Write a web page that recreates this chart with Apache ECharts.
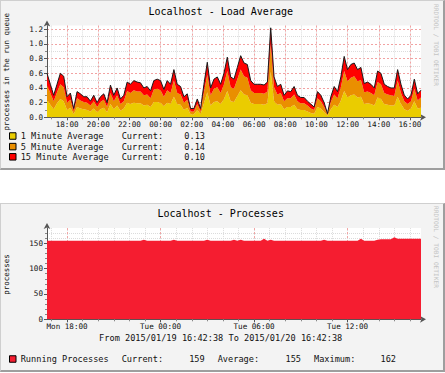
<!DOCTYPE html>
<html><head><meta charset="utf-8">
<script src="https://cdn.jsdelivr.net/npm/echarts@6/dist/echarts.min.js"></script>
<style>
html,body{margin:0;padding:0;background:#fff;}
#wrap{position:relative;width:445px;height:373px;}
.panel{position:absolute;background:#f3f3f3;box-sizing:border-box;border-top:1px solid #cfcfcf;border-left:1px solid #cfcfcf;border-right:2px solid #9e9e9e;border-bottom:2px solid #9e9e9e;}
#c{position:absolute;left:0;top:0;width:445px;height:373px;}
</style>
</head><body>
<div id="wrap">
<div class="panel" style="left:0;top:0;width:445px;height:170px;"></div>
<div class="panel" style="left:0;top:203px;width:445px;height:169px;"></div>
<div id="c"></div>
</div>
<script>
// time span: 2015/01/19 16:42:38 -> 2015/01/20 16:42:38 (hours since Jan 19 00:00)
const startHour = 16 + 42/60 + 38/3600;
const spanHours = 24;

const load1 = [0.24,0.17,0.11,0.19,0.25,0.22,0.10,0.13,0.04,0.14,
0.12,0.11,0.10,0.08,0.12,0.07,0.11,0.13,0.07,0.18,
0.11,0.16,0.09,0.12,0.20,0.18,0.20,0.19,0.19,0.16,
0.17,0.14,0.21,0.21,0.20,0.15,0.20,0.18,0.28,0.18,
0.17,0.10,0.13,0.04,0.04,0.10,0.04,0.19,0.34,0.16,
0.21,0.22,0.18,0.25,0.36,0.22,0.21,0.29,0.37,0.31,
0.30,0.20,0.18,0.18,0.18,0.17,0.19,0.62,0.22,0.17,
0.18,0.11,0.14,0.14,0.17,0.11,0.10,0.10,0.08,0.06,
0.05,0.14,0.12,0.07,0.02,0.11,0.17,0.14,0.23,0.36,
0.27,0.30,0.31,0.27,0.28,0.18,0.19,0.18,0.16,0.27,
0.25,0.18,0.17,0.16,0.16,0.28,0.18,0.11,0.09,0.12,
0.22,0.12,0.13];
const load5 = [0.20,0.16,0.11,0.15,0.20,0.19,0.10,0.11,0.04,0.12,
0.11,0.10,0.10,0.08,0.10,0.07,0.10,0.11,0.07,0.15,
0.11,0.14,0.09,0.10,0.16,0.15,0.17,0.16,0.16,0.14,
0.14,0.12,0.17,0.18,0.17,0.13,0.17,0.15,0.22,0.15,
0.14,0.10,0.11,0.04,0.04,0.08,0.04,0.15,0.24,0.14,
0.18,0.19,0.15,0.20,0.27,0.19,0.18,0.23,0.28,0.25,
0.24,0.17,0.15,0.15,0.15,0.15,0.16,0.38,0.19,0.14,
0.15,0.11,0.12,0.12,0.14,0.11,0.09,0.09,0.08,0.06,
0.05,0.12,0.10,0.07,0.02,0.10,0.14,0.12,0.18,0.27,
0.22,0.24,0.25,0.22,0.23,0.16,0.16,0.15,0.14,0.21,
0.20,0.15,0.14,0.14,0.13,0.22,0.15,0.11,0.09,0.10,
0.17,0.11,0.14];
const load15 = [0.16,0.12,0.08,0.11,0.15,0.15,0.08,0.09,0.04,0.09,
0.09,0.07,0.08,0.06,0.08,0.06,0.07,0.08,0.06,0.11,
0.08,0.10,0.07,0.08,0.12,0.12,0.13,0.13,0.12,0.10,
0.11,0.10,0.12,0.13,0.13,0.10,0.13,0.12,0.15,0.12,
0.11,0.08,0.08,0.04,0.04,0.07,0.04,0.11,0.17,0.10,
0.13,0.14,0.12,0.15,0.19,0.14,0.13,0.16,0.19,0.18,
0.18,0.13,0.12,0.12,0.12,0.12,0.13,0.22,0.14,0.11,
0.12,0.08,0.10,0.09,0.11,0.08,0.08,0.08,0.06,0.06,
0.04,0.09,0.08,0.06,0.01,0.07,0.11,0.09,0.14,0.20,
0.16,0.18,0.18,0.16,0.17,0.12,0.13,0.12,0.10,0.15,
0.15,0.12,0.11,0.10,0.11,0.15,0.12,0.08,0.07,0.08,
0.13,0.09,0.10];
const procs = [155,155,155,155,155,155,155,155,155,155,
155,155,155,155,155,155,155,155,155,155,
155,155,155,155,155,155,155,155,155,157,
155,155,155,155,155,155,155,155,157,155,
155,155,155,155,155,155,155,155,157,155,
155,155,155,155,155,155,157,155,157,155,
155,155,155,155,155,159,155,157,155,155,
155,155,155,155,155,155,155,155,155,155,
155,155,155,157,155,155,155,155,155,155,
155,155,155,155,159,155,155,155,155,157,
158,158,158,158,162,159,159,159,159,159,
159,159,159];

const loadLabelHours = [18,20,22,24,26,28,30,32,34,36,38,40];
const procLabelHours = [18,24,30,36];
const procLabelNames = ['Mon 18:00','Tue 00:00','Tue 06:00','Tue 12:00'];
const minorHours = [17,18,19,20,21,22,23,24,25,26,27,28,29,30,31,32,33,34,35,36,37,38,39,40];
const loadYTicks = [0,0.2,0.4,0.6,0.8,1.0,1.2];
const loadYMinor = [0.1,0.3,0.5,0.7,0.9,1.1];
const procYTicks = [0,50,100,150];
const procYMinor = [10,20,30,40,60,70,80,90,110,120,130,140,160,170];

const legendLoad = [
  {name:'1 Minute Average', color:'#EACC00', current:'0.13'},
  {name:'5 Minute Average', color:'#EA8F00', current:'0.14'},
  {name:'15 Minute Average', color:'#FF0000', current:'0.10'}
];
const procStats = {current:'159', average:'155', maximum:'162'};

const MONO = '"DejaVu Sans Mono", monospace';
const n = load1.length;
const xs = load1.map((_, i) => startHour + i * spanHours / (n - 1));
const pair = arr => arr.map((v, i) => [xs[i], v]);
const pad = h => (h < 10 ? '0' : '') + h;

const majorLine = {show:true, lineStyle:{color:'#f2a2a2', width:1, type:[2,2]}};
const minorLine = {show:true, lineStyle:{color:'#dcdcdc', width:1, type:[1,1]}};
const axisCol = '#555';

function xMajor(gi, values, fmt) {
  return {gridIndex:gi, type:'value', min:startHour, max:startHour+spanHours, position:'bottom',
    axisLine:{show:true, onZero:false, lineStyle:{color:axisCol}, symbol:['none','arrow'], symbolSize:[5,6], symbolOffset:[0,5]},
    axisTick:{show:true, customValues:values, length:3, lineStyle:{color:axisCol}},
    axisLabel:{customValues:values, formatter:fmt, fontFamily:MONO, fontSize:7.6, color:'#111', margin:3, showMinLabel:true, showMaxLabel:true},
    splitLine:majorLine};
}
function xMinor(gi) {
  return {gridIndex:gi, type:'value', min:startHour, max:startHour+spanHours, position:'bottom',
    axisLine:{show:false, onZero:false}, axisTick:{show:true, customValues:minorHours, length:2, lineStyle:{color:'#888'}},
    axisLabel:{show:false, customValues:minorHours}, splitLine:minorLine};
}
function yMajor(gi, max, values, fmt) {
  return {gridIndex:gi, type:'value', min:0, max:max, position:'left',
    axisLine:{show:true, lineStyle:{color:axisCol}, symbol:['none','arrow'], symbolSize:[5,6], symbolOffset:[0,5]},
    axisTick:{show:true, customValues:values, length:3, lineStyle:{color:axisCol}},
    axisLabel:{customValues:values, formatter:fmt, fontFamily:MONO, fontSize:7.6, color:'#111', margin:4},
    splitLine:majorLine};
}
function yMinor(gi, max, values) {
  return {gridIndex:gi, type:'value', min:0, max:max, position:'left',
    axisLine:{show:false}, axisTick:{show:true, customValues:values, length:2, lineStyle:{color:'#888'}},
    axisLabel:{show:false, customValues:values}, splitLine:minorLine};
}

const graphics = [];
function txt(x, y, text, opt) {
  graphics.push(Object.assign({type:'text', silent:true, x:x, y:y, style:Object.assign({
    text:text, font:'8.6px ' + MONO, fill:'#111', textAlign:'left', textVerticalAlign:'middle'}, opt && opt.style || {})},
    opt && opt.rotation !== undefined ? {rotation:opt.rotation} : {}));
}
function box(x, y, color) {
  graphics.push({type:'rect', silent:true, shape:{x:x, y:y, width:6.5, height:6.5},
    style:{fill:color, stroke:'#000', lineWidth:1}});
}
// titles
txt(220.7, 11.7, 'Localhost - Load Average', {style:{font:'10px ' + MONO, textAlign:'center', fill:'#000'}});
txt(220.7, 213.3, 'Localhost - Processes', {style:{font:'10px ' + MONO, textAlign:'center', fill:'#000'}});
// y axis titles
txt(6.3, 71.7, 'processes in the run queue', {rotation:Math.PI/2, style:{font:'7.5px ' + MONO, textAlign:'center'}});
txt(6.3, 274.5, 'processes', {rotation:Math.PI/2, style:{font:'7.5px ' + MONO, textAlign:'center'}});
// watermarks
txt(436.5, 45, 'RRDTOOL / TOBI OETIKER', {rotation:-Math.PI/2, style:{font:'6.2px ' + MONO, textAlign:'center', fill:'#c4c4c4'}});
txt(436.5, 247, 'RRDTOOL / TOBI OETIKER', {rotation:-Math.PI/2, style:{font:'6.2px ' + MONO, textAlign:'center', fill:'#c4c4c4'}});
// load legend
const legY = [136, 146.6, 156.8];
legendLoad.forEach((l, i) => {
  box(9.5, legY[i] - 3.25, l.color);
  txt(20.7, legY[i], l.name);
  txt(121.7, legY[i], 'Current:');
  txt(205, legY[i], l.current, {style:{textAlign:'right'}});
});
// processes footer
txt(220.7, 337.7, 'From 2015/01/19 16:42:38 To 2015/01/20 16:42:38', {style:{textAlign:'center'}});
box(9.5, 359 - 3.25, '#F51D30');
txt(20.7, 359, 'Running Processes');
txt(121.7, 359, 'Current:');
txt(204.7, 359, procStats.current, {style:{textAlign:'right'}});
txt(217.7, 359, 'Average:');
txt(301, 359, procStats.average, {style:{textAlign:'right'}});
txt(314, 359, 'Maximum:');
txt(396, 359, procStats.maximum, {style:{textAlign:'right'}});

const chart = echarts.init(document.getElementById('c'), null, {renderer:'svg', width:445, height:373});
chart.setOption({
  backgroundColor:'transparent',
  animation:false,
  grid:[
    {left:47, top:25.6, width:374, height:91.7, show:true, backgroundColor:'#fff', borderWidth:0},
    {left:47, top:228.1, width:374, height:91.2, show:true, backgroundColor:'#fff', borderWidth:0}
  ],
  xAxis:[
    xMinor(0),
    xMajor(0, loadLabelHours, v => pad(Math.round(v) % 24) + ':00'),
    xMinor(1),
    xMajor(1, procLabelHours, v => procLabelNames[procLabelHours.indexOf(Math.round(v))]),
    // hidden sample axis for the stacked load series (samples span the full time range)
    {gridIndex:0, type:'category', data:xs.map(String), boundaryGap:false, show:false, position:'bottom'}
  ],
  yAxis:[
    yMinor(0, 1.25, loadYMinor),
    yMajor(0, 1.25, loadYTicks, v => v.toFixed(1)),
    yMinor(1, 180, procYMinor),
    yMajor(1, 180, procYTicks, v => String(Math.round(v)))
  ],
  series:[
    {type:'line', name:'1 Minute Average', xAxisIndex:4, yAxisIndex:1, stack:'load', data:load1,
      showSymbol:false, symbol:'none', lineStyle:{width:0}, areaStyle:{color:'#EACC00', opacity:1}, z:3},
    {type:'line', name:'5 Minute Average', xAxisIndex:4, yAxisIndex:1, stack:'load', data:load5,
      showSymbol:false, symbol:'none', lineStyle:{width:0}, areaStyle:{color:'#EA8F00', opacity:1}, z:3},
    {type:'line', name:'15 Minute Average', xAxisIndex:4, yAxisIndex:1, stack:'load', data:load15,
      showSymbol:false, symbol:'none', lineStyle:{width:1, color:'#1a1a1a'}, areaStyle:{color:'#FF0000', opacity:1}, z:3},
    {type:'line', name:'Running Processes', xAxisIndex:3, yAxisIndex:3, data:pair(procs),
      showSymbol:false, symbol:'none', lineStyle:{width:0}, areaStyle:{color:'#F51D30', opacity:1}, z:3}
  ],
  graphic:{elements:graphics}
});
</script>
</body></html>
